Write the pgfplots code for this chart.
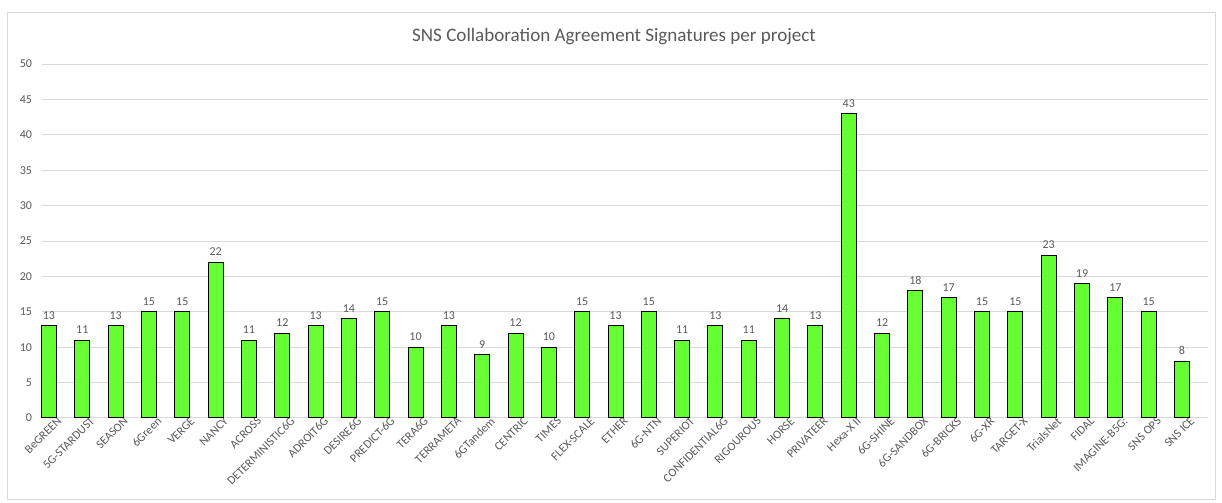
\documentclass[border=0pt]{standalone}
\usepackage{pgfplots}
\pgfplotsset{compat=1.18}
\usepackage{fontspec}
\setmainfont{Carlito}
\definecolor{txt}{HTML}{595959}
\definecolor{gridc}{HTML}{D9D9D9}
\definecolor{barc}{HTML}{66FF33}
\begin{document}
\begin{tikzpicture}[x=1pt,y=1pt]
\path[use as bounding box] (-31.5,-63.75) rectangle (885,313.5);
\draw[gridc, line width=0.75pt] (-25.5,-61.5) rectangle (879.75,303.75);
\node[text=txt, font=\fontsize{14.3}{16}\selectfont] at (429,286) {SNS Collaboration Agreement Signatures per project};
\begin{axis}[
  at={(0,0)}, anchor=south west, scale only axis,
  width=874.5pt, height=265.5pt,
  ybar, bar width=11.25pt,
  xmin=-0.21, xmax=34.78, ymin=0, ymax=50,
  ytick={0,5,...,50},
  xtick={0,...,34},
  xticklabels={BeGREEN,5G-STARDUST,SEASON,6Green,VERGE,NANCY,ACROSS,DETERMINISTIC6G,ADROIT6G,DESIRE6G,PREDICT-6G,TERA6G,TERRAMETA,6GTandem,CENTRIC,TIMES,FLEX-SCALE,ETHER,6G-NTN,SUPERIOT,CONFIDENTIAL6G,RIGOUROUS,HORSE,PRIVATEER,Hexa-X II,6G-SHINE,6G-SANDBOX,6G-BRICKS,6G-XR,TARGET-X,TrialsNet,FIDAL,IMAGINE-B5G:,SNS OPS,SNS ICE},
  ymajorgrids, grid style={gridc, line width=0.75pt},
  axis line style={draw=none},
  major tick length=0pt,
  tick label style={font=\fontsize{9}{11}\selectfont, text=txt},
  /pgf/number format/assume math mode=true,
  yticklabel style={xshift=-4pt},
  xticklabel style={rotate=45, anchor=north east, inner sep=1pt, xshift=6pt, yshift=-2pt},
  nodes near coords,
  nodes near coords style={font=\fontsize{9}{11}\selectfont, text=txt, yshift=1pt},
  clip=false,
]
\addplot[fill=barc, draw=black, line width=0.75pt] coordinates {
(0,13) (1,11) (2,13) (3,15) (4,15) (5,22) (6,11) (7,12) (8,13) (9,14)
(10,15) (11,10) (12,13) (13,9) (14,12) (15,10) (16,15) (17,13) (18,15) (19,11)
(20,13) (21,11) (22,14) (23,13) (24,43) (25,12) (26,18) (27,17) (28,15) (29,15)
(30,23) (31,19) (32,17) (33,15) (34,8)
};
\end{axis}
\end{tikzpicture}
\end{document}
